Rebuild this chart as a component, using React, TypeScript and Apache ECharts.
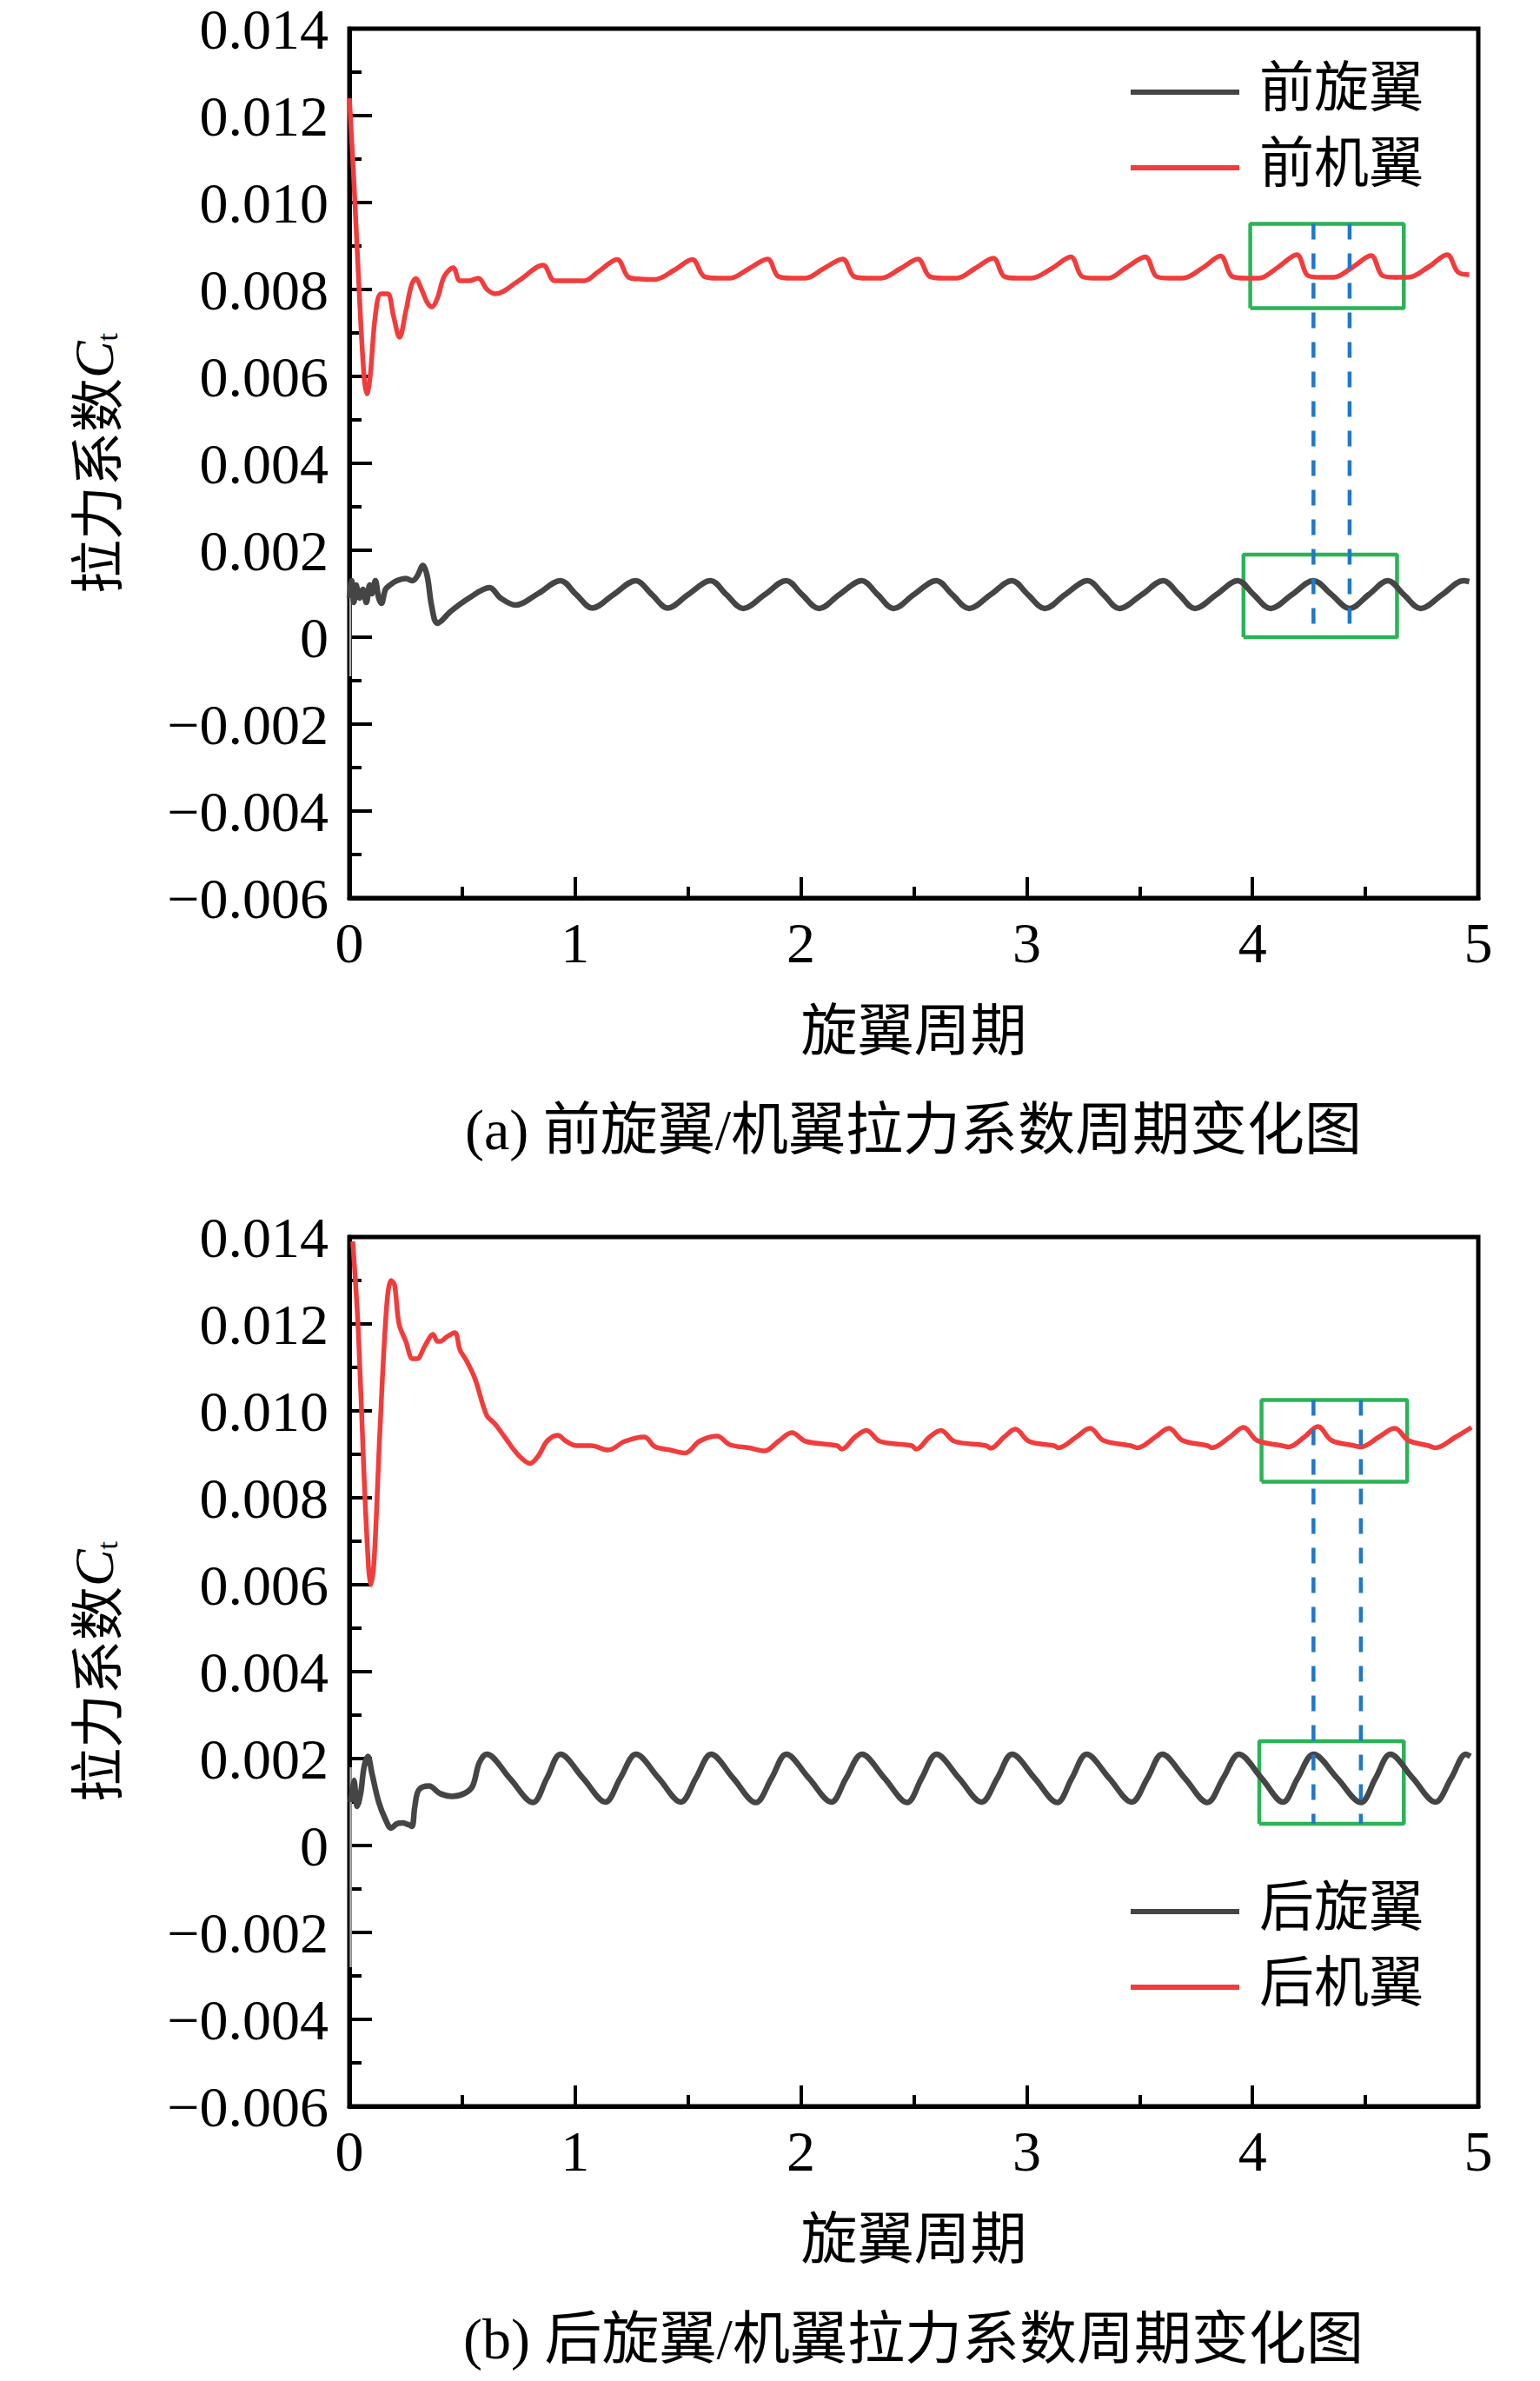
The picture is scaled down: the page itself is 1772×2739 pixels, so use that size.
import React, { useEffect, useRef } from "react";
import * as echarts from "echarts";

const FONT = "'Liberation Serif', 'Noto Sans CJK SC', serif";

const X_TICK_LABELS = ["0", "1", "2", "3", "4", "5"];
const Y_TICK_LABELS = ["\u22120.006", "\u22120.004", "\u22120.002", "0", "0.002", "0.004", "0.006", "0.008", "0.010", "0.012", "0.014"];

const LEGEND_A = ["前旋翼", "前机翼"];
const LEGEND_B = ["后旋翼", "后机翼"];
const CAPTION_A = "(a) 前旋翼/机翼拉力系数周期变化图";
const CAPTION_B = "(b) 后旋翼/机翼拉力系数周期变化图";
const X_NAME = "旋翼周期";

// (a) front rotor
const FRONT_ROTOR = [
  [0, 0.0009], [0.01, 0.0013], [0.02, 0.0008], [0.03, 0.0012], [0.045, 0.0009], [0.06, 0.0011],
  [0.075, 0.0008], [0.09, 0.0012], [0.1, 0.001], [0.115, 0.0013], [0.13, 0.0009], [0.142, 0.00078],
  [0.16, 0.0011], [0.18, 0.0012], [0.21, 0.0013], [0.25, 0.00135], [0.28, 0.0013], [0.3, 0.0014],
  [0.326, 0.00165], [0.345, 0.0014], [0.365, 0.0007], [0.39, 0.00032], [0.45, 0.0006], [0.53, 0.0009],
  [0.621, 0.00114], [0.67, 0.0009], [0.736, 0.00074], [0.835, 0.001],
  [0.935, 0.0013], [1.005, 0.00098], [1.076, 0.00067], [1.17, 0.00098], [1.269, 0.0013], [1.34, 0.00098],
  [1.41, 0.00067], [1.5, 0.00098], [1.6, 0.0013], [1.67, 0.00098], [1.744, 0.00066], [1.84, 0.00098],
  [1.935, 0.0013], [2.005, 0.00098], [2.08, 0.00066], [2.17, 0.00098], [2.27, 0.0013], [2.34, 0.00098],
  [2.41, 0.00066], [2.5, 0.00098], [2.6, 0.0013], [2.67, 0.00098], [2.745, 0.00066], [2.84, 0.00098],
  [2.935, 0.0013], [3.005, 0.00098], [3.08, 0.00066], [3.17, 0.00098], [3.27, 0.0013], [3.34, 0.00098],
  [3.41, 0.00066], [3.51, 0.00098], [3.605, 0.0013], [3.675, 0.00098], [3.745, 0.00066], [3.84, 0.00098],
  [3.935, 0.0013], [4.005, 0.00098], [4.08, 0.00066], [4.175, 0.00098], [4.27, 0.0013], [4.35, 0.00098],
  [4.43, 0.00066], [4.515, 0.00098], [4.6, 0.0013], [4.67, 0.00098], [4.745, 0.00066], [4.84, 0.00098],
  [4.935, 0.0013], [4.96, 0.00128],
];
// (a) front wing
const FRONT_WING = [
  [0, 0.0124], [0.02, 0.0105], [0.045, 0.0078], [0.065, 0.006], [0.078, 0.0056], [0.092, 0.006],
  [0.115, 0.0074], [0.14, 0.0079], [0.17, 0.0079], [0.195, 0.0074], [0.222, 0.0069], [0.25, 0.0075],
  [0.275, 0.0081], [0.294, 0.00825], [0.32, 0.008], [0.345, 0.0077], [0.365, 0.0076], [0.39, 0.0078],
  [0.42, 0.0083], [0.46, 0.0085], [0.49, 0.0082], [0.53, 0.0082], [0.57, 0.00826], [0.61, 0.008],
  [0.647, 0.0079], [0.75, 0.0082], [0.858, 0.00856], [0.91, 0.0082], [1.04, 0.0082], [1.1, 0.0084],
  [1.186, 0.00869], [1.237, 0.00828], [1.29, 0.00824], [1.353, 0.00823], [1.44, 0.00845],
  [1.519, 0.00869], [1.571, 0.0083], [1.63, 0.00826], [1.686, 0.00826], [1.77, 0.00848],
  [1.852, 0.0087], [1.9, 0.0083], [1.96, 0.00826], [2.02, 0.00826], [2.1, 0.00848],
  [2.185, 0.0087], [2.235, 0.0083], [2.29, 0.00826], [2.355, 0.00826], [2.44, 0.00848],
  [2.518, 0.0087], [2.57, 0.0083], [2.63, 0.00826], [2.69, 0.00826], [2.77, 0.00848],
  [2.852, 0.00872], [2.9, 0.0083], [2.96, 0.00826], [3.02, 0.00826], [3.11, 0.00848],
  [3.195, 0.00875], [3.245, 0.0083], [3.3, 0.00826], [3.36, 0.00826], [3.44, 0.0085],
  [3.525, 0.00875], [3.575, 0.0083], [3.63, 0.00826], [3.69, 0.00826], [3.78, 0.0085],
  [3.858, 0.00877], [3.91, 0.0083], [3.97, 0.00826], [4.03, 0.00826], [4.11, 0.0085],
  [4.196, 0.0088], [4.245, 0.00832], [4.3, 0.00828], [4.36, 0.00828], [4.44, 0.0085],
  [4.525, 0.00878], [4.575, 0.00832], [4.63, 0.00828], [4.69, 0.00828], [4.78, 0.00852],
  [4.862, 0.0088], [4.91, 0.0084], [4.96, 0.00834],
];
const FRONT_TRANSIENT = [[0.004, 0.0011], [0.004, -0.0009]];
const FRONT_BOX_WING = [[3.99, 0.00757], [4.67, 0.00757], [4.67, 0.00951], [3.99, 0.00951], [3.99, 0.00757]];
const FRONT_BOX_ROTOR = [[3.96, 0.0], [4.64, 0.0], [4.64, 0.0019], [3.96, 0.0019], [3.96, 0.0]];
const FRONT_GUIDE_1 = [[4.27, 0.00951], [4.27, 0.0]];
const FRONT_GUIDE_2 = [[4.43, 0.00951], [4.43, 0.0]];

// (b) rear rotor
const REAR_ROTOR = [
  [0.006, 0.001], [0.02, 0.0015], [0.035, 0.0009], [0.05, 0.0012], [0.065, 0.0018], [0.082, 0.00205],
  [0.1, 0.00166], [0.13, 0.001], [0.16, 0.0006], [0.185, 0.0004], [0.21, 0.0005], [0.236, 0.00052],
  [0.262, 0.00048], [0.277, 0.00044], [0.29, 0.0009], [0.308, 0.00128], [0.353, 0.00137], [0.4, 0.0012],
  [0.454, 0.00113], [0.51, 0.0012], [0.546, 0.00137], [0.575, 0.0019],
  [0.608, 0.0021], [0.71, 0.00155], [0.813, 0.00099], [0.875, 0.00155],
  [0.935, 0.0021], [1.035, 0.00155], [1.134, 0.001], [1.2, 0.00155],
  [1.269, 0.0021], [1.37, 0.00155], [1.468, 0.001], [1.535, 0.00155],
  [1.602, 0.0021], [1.7, 0.00155], [1.8, 0.00099], [1.87, 0.00155],
  [1.935, 0.0021], [2.035, 0.00155], [2.135, 0.001], [2.2, 0.00155],
  [2.27, 0.0021], [2.37, 0.00155], [2.47, 0.00099], [2.535, 0.00155],
  [2.6, 0.0021], [2.7, 0.00155], [2.8, 0.001], [2.87, 0.00155],
  [2.935, 0.0021], [3.035, 0.00155], [3.135, 0.00099], [3.2, 0.00155],
  [3.265, 0.0021], [3.365, 0.00155], [3.465, 0.001], [3.535, 0.00155],
  [3.6, 0.0021], [3.7, 0.00155], [3.8, 0.00099], [3.87, 0.00155],
  [3.94, 0.0021], [4.04, 0.00155], [4.135, 0.001], [4.2, 0.00155],
  [4.27, 0.0021], [4.375, 0.00155], [4.48, 0.00099], [4.545, 0.00155],
  [4.61, 0.0021], [4.71, 0.00155], [4.81, 0.001], [4.88, 0.00155],
  [4.945, 0.0021], [4.965, 0.00205],
];
// (b) rear wing
const REAR_WING = [
  [0.015, 0.0139], [0.04, 0.0118], [0.065, 0.0085], [0.085, 0.0064], [0.095, 0.006], [0.11, 0.0066],
  [0.135, 0.0095], [0.165, 0.0124], [0.185, 0.013], [0.2, 0.0129], [0.22, 0.012], [0.25, 0.0116],
  [0.28, 0.0112], [0.3, 0.0112], [0.335, 0.0115], [0.371, 0.01176], [0.39, 0.0116], [0.403, 0.0116],
  [0.43, 0.0117], [0.467, 0.0118], [0.49, 0.0114], [0.518, 0.01116], [0.557, 0.01073], [0.608, 0.0099],
  [0.645, 0.0097], [0.685, 0.00942], [0.749, 0.00898], [0.8, 0.00879], [0.839, 0.00898], [0.875, 0.0093],
  [0.922, 0.00944], [0.96, 0.0093], [1.006, 0.0092], [1.07, 0.0092], [1.147, 0.0091], [1.22, 0.0093],
  [1.307, 0.0094], [1.352, 0.00918], [1.42, 0.0091], [1.487, 0.00903], [1.55, 0.0093],
  [1.628, 0.00942], [1.686, 0.00922], [1.77, 0.00915], [1.84, 0.00908], [1.9, 0.0093],
  [1.96, 0.0095], [2.02, 0.0093], [2.16, 0.0092], [2.18, 0.00912], [2.24, 0.0094],
  [2.29, 0.00955], [2.35, 0.0093], [2.49, 0.0092], [2.51, 0.00912], [2.57, 0.0094],
  [2.62, 0.00955], [2.68, 0.0093], [2.82, 0.0092], [2.84, 0.00914], [2.9, 0.0094],
  [2.95, 0.00958], [3.01, 0.0093], [3.12, 0.0092], [3.14, 0.00915], [3.22, 0.0094],
  [3.28, 0.0096], [3.34, 0.00932], [3.46, 0.0092], [3.49, 0.00915], [3.57, 0.0094],
  [3.63, 0.0096], [3.69, 0.00932], [3.8, 0.0092], [3.82, 0.00915], [3.9, 0.0094],
  [3.96, 0.00962], [4.02, 0.00932], [4.13, 0.0092], [4.16, 0.00917], [4.23, 0.0094],
  [4.29, 0.00964], [4.35, 0.00932], [4.45, 0.0092], [4.48, 0.00917], [4.56, 0.0094],
  [4.63, 0.0096], [4.69, 0.00932], [4.78, 0.0092], [4.81, 0.00915], [4.9, 0.0094],
  [4.97, 0.00962],
];
const REAR_TRANSIENT = [[0.006, 0.0018], [0.006, -0.0028]];
const REAR_BOX_WING = [[4.04, 0.00837], [4.685, 0.00837], [4.685, 0.01025], [4.04, 0.01025], [4.04, 0.00837]];
const REAR_BOX_ROTOR = [[4.03, 0.0005], [4.67, 0.0005], [4.67, 0.0024], [4.03, 0.0024], [4.03, 0.0005]];
const REAR_GUIDE_1 = [[4.27, 0.01025], [4.27, 0.0005]];
const REAR_GUIDE_2 = [[4.48, 0.01025], [4.48, 0.0005]];

const BLACK = "#454545";
const RED = "#f23c3c";
const GREEN = "#2bb357";
const BLUE = "#1f78c8";

// legend icon: a 6px bar at the bottom of a 30px-tall symbol box
const LEGEND_ICON = "path://M0,0L0.05,0L0,0.05Z M0,24L125,24L125,30L0,30Z";

function xAxis(gridIndex: number) {
  return {
    type: "value",
    gridIndex,
    min: 0,
    max: 5,
    interval: 1,
    name: X_NAME,
    nameLocation: "middle",
    nameGap: 120,
    nameTextStyle: { fontFamily: FONT, fontSize: 65, color: "#000" },
    axisLine: { show: true, onZero: false, lineStyle: { color: "#000", width: 5 } },
    axisTick: { show: true, inside: true, length: 24, lineStyle: { color: "#000", width: 4 } },
    minorTick: { show: true, splitNumber: 2, length: 13, lineStyle: { color: "#000", width: 4 } },
    splitLine: { show: false },
    minorSplitLine: { show: false },
    axisLabel: {
      margin: 18,
      fontFamily: FONT,
      fontSize: 66,
      color: "#000",
      showMinLabel: true,
      showMaxLabel: true,
      formatter: (v: number) => X_TICK_LABELS[Math.round(v)] ?? "",
    },
  };
}

function yAxis(gridIndex: number) {
  return {
    type: "value",
    gridIndex,
    min: -0.006,
    max: 0.014,
    interval: 0.002,
    name: "{cn|拉力系数}{c|C}{t|t}",
    nameLocation: "middle",
    nameRotate: 90,
    nameGap: 262,
    nameTextStyle: {
      color: "#000",
      rich: {
        cn: { fontFamily: "'Noto Sans CJK SC'", fontSize: 62, color: "#000" },
        c: { fontFamily: "'Liberation Serif'", fontStyle: "italic", fontSize: 64, color: "#000" },
        t: { fontFamily: "'Liberation Serif'", fontSize: 34, color: "#000", verticalAlign: "bottom" },
      },
    },
    axisLine: { show: true, onZero: false, lineStyle: { color: "#000", width: 5 } },
    axisTick: { show: true, inside: true, length: 26, lineStyle: { color: "#000", width: 4 } },
    minorTick: { show: true, splitNumber: 2, length: 14, lineStyle: { color: "#000", width: 4 } },
    splitLine: { show: false },
    minorSplitLine: { show: false },
    axisLabel: {
      margin: 24,
      fontFamily: FONT,
      fontSize: 66,
      color: "#000",
      showMinLabel: true,
      showMaxLabel: true,
      formatter: (v: number) => Y_TICK_LABELS[Math.round((v + 0.006) / 0.002)] ?? "",
    },
  };
}

function plain(name: string, idx: number, data: number[][], color: string, width: number, extra: any = {}) {
  return {
    type: "line",
    name,
    xAxisIndex: idx,
    yAxisIndex: idx,
    data,
    symbol: "none",
    silent: true,
    lineStyle: { color, width, ...extra },
    itemStyle: { color },
  };
}

function curve(name: string, idx: number, data: number[][], color: string, width: number) {
  return { ...plain(name, idx, data, color, width), smooth: 0.35 };
}

function legend(names: string[], top: number) {
  return {
    data: names.map((n) => ({ name: n, icon: LEGEND_ICON })),
    orient: "vertical",
    left: 1296,
    top,
    itemWidth: 125,
    itemHeight: 30,
    itemGap: 17,
    selectedMode: false,
    textStyle: { fontFamily: "'Noto Sans CJK SC'", fontSize: 63, color: "#000", lineHeight: 70, padding: [0, 0, 0, 18] },
  };
}

export default function App() {
  const ref = useRef<HTMLDivElement>(null);
  useEffect(() => {
    if (!ref.current) return;
    const chart = echarts.init(ref.current, null, { renderer: "svg" });
    const dash = { type: [18, 16] };
    chart.setOption({
      animation: false,
      backgroundColor: "#fff",
      grid: [
        { left: 402, top: 33, width: 1299, height: 1000, show: true, borderColor: "#000", borderWidth: 5, backgroundColor: "transparent" },
        { left: 402, top: 1423, width: 1299, height: 1000, show: true, borderColor: "#000", borderWidth: 5, backgroundColor: "transparent" },
      ],
      xAxis: [xAxis(0), xAxis(1)],
      yAxis: [yAxis(0), yAxis(1)],
      legend: [legend(LEGEND_A, 54), legend(LEGEND_B, 2147)],
      graphic: [
        {
          type: "text",
          x: 1051,
          y: 1299,
          style: { text: CAPTION_A, fontFamily: FONT, fontSize: 66, fill: "#000", align: "center", verticalAlign: "middle", textAlign: "center", textVerticalAlign: "middle" },
        },
        {
          type: "text",
          x: 1051,
          y: 2690,
          style: { text: CAPTION_B, fontFamily: FONT, fontSize: 66, fill: "#000", align: "center", verticalAlign: "middle", textAlign: "center", textVerticalAlign: "middle" },
        },
      ],
      series: [
        plain("boxA1", 0, FRONT_BOX_WING, GREEN, 4.5),
        plain("boxA2", 0, FRONT_BOX_ROTOR, GREEN, 4.5),
        plain("transA", 0, FRONT_TRANSIENT, "#b0b0b0", 2.5),
        curve(LEGEND_A[0], 0, FRONT_ROTOR, BLACK, 6.5),
        curve(LEGEND_A[1], 0, FRONT_WING, RED, 5.5),
        plain("guideA1", 0, FRONT_GUIDE_1, BLUE, 4.5, dash),
        plain("guideA2", 0, FRONT_GUIDE_2, BLUE, 4.5, dash),

        plain("boxB1", 1, REAR_BOX_WING, GREEN, 4.5),
        plain("boxB2", 1, REAR_BOX_ROTOR, GREEN, 4.5),
        plain("transB", 1, REAR_TRANSIENT, "#b0b0b0", 2.5),
        curve(LEGEND_B[0], 1, REAR_ROTOR, BLACK, 6.5),
        curve(LEGEND_B[1], 1, REAR_WING, RED, 5.5),
        plain("guideB1", 1, REAR_GUIDE_1, BLUE, 4.5, dash),
        plain("guideB2", 1, REAR_GUIDE_2, BLUE, 4.5, dash),
      ],
    });
    return () => chart.dispose();
  }, []);
  return <div ref={ref} style={{ position: "absolute", left: 0, top: 0, width: 1772, height: 2739 }} />;
}
